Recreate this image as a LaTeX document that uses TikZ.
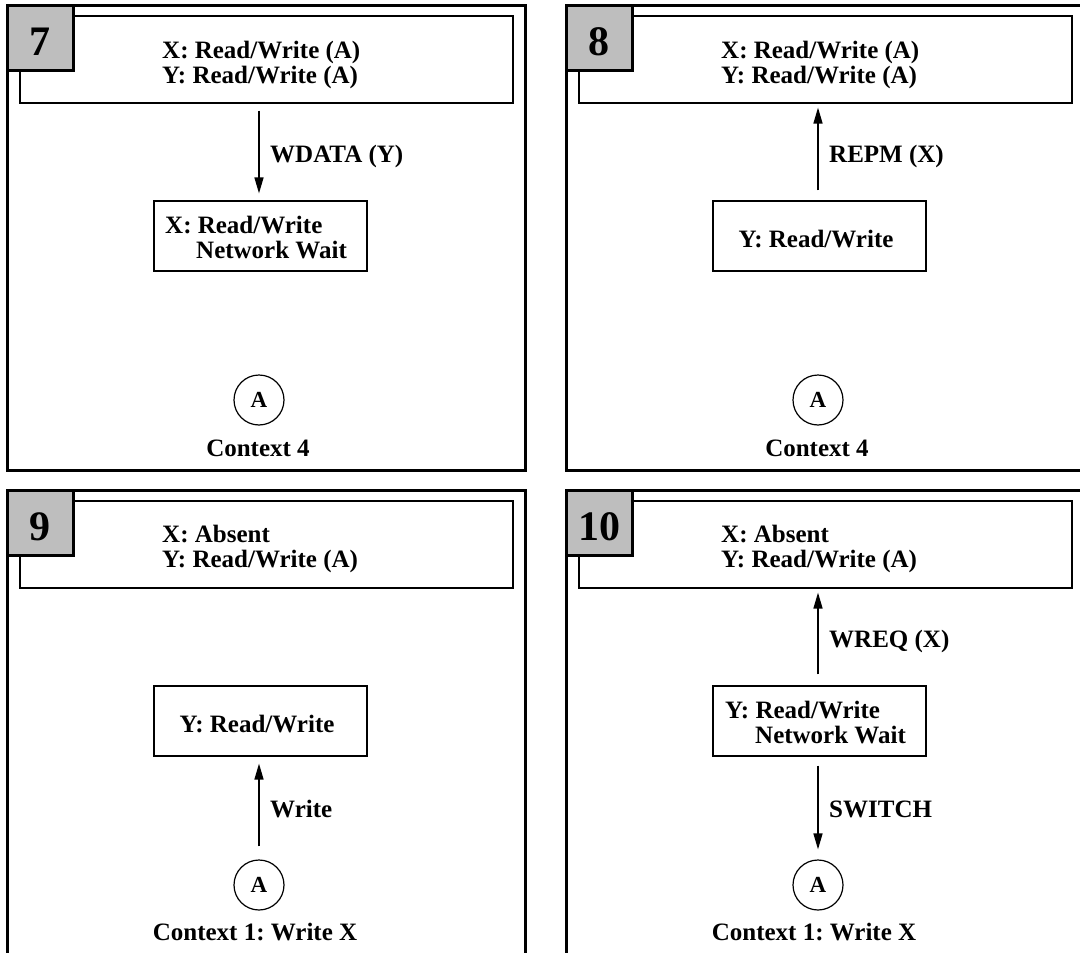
\documentclass[tikz,border=0pt]{standalone}
\usepackage{fontspec}
\setmainfont{Liberation Serif}
\usetikzlibrary{arrows.meta}
\frenchspacing
\definecolor{numgray}{RGB}{190,190,190}
\tikzset{
 frame/.style={draw, line width=3pt},
 statebox/.style={draw, line width=1.2pt, minimum width=493pt, minimum height=87pt, inner sep=0pt},
 midbox/.style={draw, line width=1.2pt, minimum width=213pt, minimum height=70pt, inner sep=0pt},
 numbox/.style={draw, line width=3pt, fill=numgray, minimum width=66pt, minimum height=65pt, inner sep=0pt},
 numtxt/.style={font=\fontsize{42}{42}\selectfont\bfseries, inner sep=0pt},
 txt/.style={font=\fontsize{25}{25}\selectfont\bfseries\frenchspacing, inner sep=0pt, anchor=base west},
 ctxt/.style={font=\fontsize{25}{25}\selectfont\bfseries\frenchspacing, inner sep=0pt, anchor=base},
 ctx/.style={draw, circle, line width=1.2pt, minimum size=50pt, inner sep=0pt, font=\fontsize{23}{23}\selectfont\bfseries},
 msg/.style={line width=1.5pt, -{Triangle[length=16pt,width=9pt]}},
}
\begin{document}
\begin{tikzpicture}[x=1pt,y=-1pt]
\fill[white] (0,0) rectangle (1080,953);
\useasboundingbox (0,0) rectangle (1080,953);
\clip (0,0) rectangle (1080,953);
% ---------------- Panel 7 ----------------
\begin{scope}
\draw[frame] (7,5) rectangle (525,470);
\node[statebox] (top7) at (266.5,59.5) {};
\node[numbox] (n7) at (40,37.5) {};
\node[numtxt] at (40,42) {7};
\node[txt] at (162,58) {X: Read/Write (A)};
\node[txt] at (162,83) {Y: Read/Write (A)};
\node[midbox] (mid7) at (260.5,236) {};
\node[txt] at (165,233) {X: Read/Write};
\node[txt] at (196,258) {Network Wait};
\node[ctx] (a7) at (259,400) {A};
\node[ctxt] at (258,456) {Context 4};
\draw[msg, shorten <=7pt, shorten >=7pt] (top7.south -| a7) -- (mid7.north -| a7);
\node[txt] at (270,162) {WDATA (Y)};
\end{scope}
% ---------------- Panel 8 ----------------
\begin{scope}[shift={(559,0)}]
\draw[frame] (7,5) rectangle (525,470);
\node[statebox] (top8) at (266.5,59.5) {};
\node[numbox] (n8) at (40,37.5) {};
\node[numtxt] at (40,42) {8};
\node[txt] at (162,58) {X: Read/Write (A)};
\node[txt] at (162,83) {Y: Read/Write (A)};
\node[midbox] (mid8) at (260.5,236) {};
\node[ctxt] at (257,247) {Y: Read/Write};
\node[ctx] (a8) at (259,400) {A};
\node[ctxt] at (258,456) {Context 4};
\draw[msg, shorten <=10pt, shorten >=4pt] (mid8.north -| a8) -- (top8.south -| a8);
\node[txt] at (270,162) {REPM (X)};
\end{scope}
% ---------------- Panel 9 ----------------
\begin{scope}[shift={(0,485)}]
\draw[frame] (7,5) rectangle (525,470);
\node[statebox] (top9) at (266.5,59.5) {};
\node[numbox] (n9) at (40,37.5) {};
\node[numtxt] at (40,42) {9};
\node[txt] at (162,57) {X: Absent};
\node[txt] at (162,82) {Y: Read/Write (A)};
\node[midbox] (mid9) at (260.5,236) {};
\node[ctxt] at (257,247) {Y: Read/Write};
\node[ctx] (a9) at (259,400) {A};
\node[ctxt] at (255,455) {Context 1: Write X};
\draw[msg, shorten <=13pt, shorten >=7pt] (a9.north) -- (mid9.south -| a9);
\node[txt] at (270,332) {Write};
\end{scope}
% ---------------- Panel 10 ----------------
\begin{scope}[shift={(559,485)}]
\draw[frame] (7,5) rectangle (525,470);
\node[statebox] (top10) at (266.5,59.5) {};
\node[numbox] (n10) at (40,37.5) {};
\node[numtxt] at (40,42) {10};
\node[txt] at (162,57) {X: Absent};
\node[txt] at (162,82) {Y: Read/Write (A)};
\node[midbox] (mid10) at (260.5,236) {};
\node[txt] at (166,233) {Y: Read/Write};
\node[txt] at (196,258) {Network Wait};
\node[ctx] (a10) at (259,400) {A};
\node[ctxt] at (255,455) {Context 1: Write X};
\draw[msg, shorten <=11pt, shorten >=4pt] (mid10.north -| a10) -- (top10.south -| a10);
\node[txt] at (270,162) {WREQ (X)};
\draw[msg, shorten <=9pt, shorten >=10pt] (mid10.south -| a10) -- (a10.north);
\node[txt] at (270,332) {SWITCH};
\end{scope}
\end{tikzpicture}
\end{document}
